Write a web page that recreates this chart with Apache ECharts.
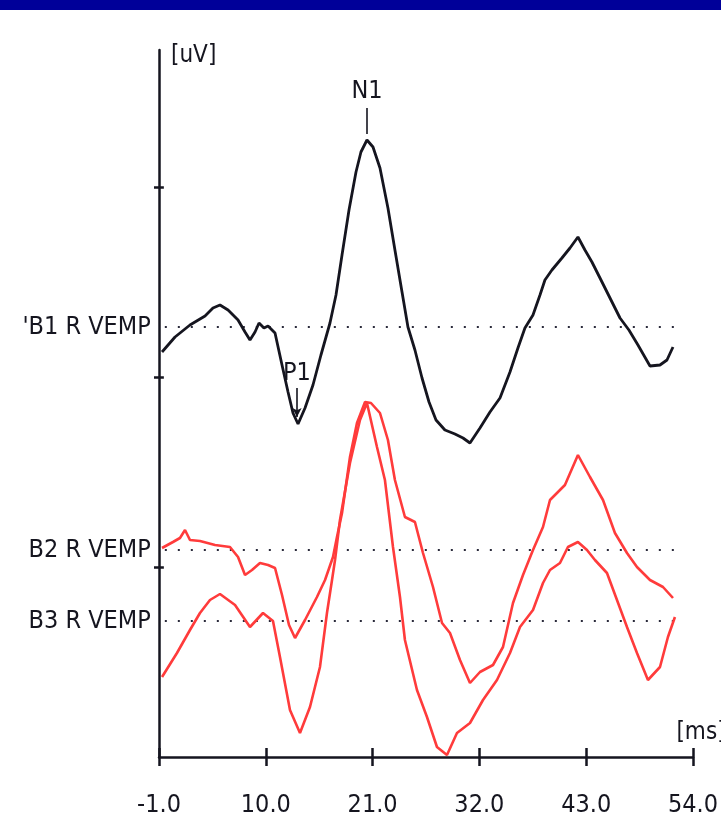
<!DOCTYPE html>
<html><head><meta charset="utf-8">
<script src="https://cdn.jsdelivr.net/npm/echarts@6/dist/echarts.min.js"></script>
<style>html,body{margin:0;padding:0;background:#fff}#c{width:721px;height:826px}</style>
</head><body><div id="c"></div>
<script>
// x tick values (ms) and y tick values (arbitrary uV units)
const xTicks = [-1, 10, 21, 32, 43, 54];
const yTicks = [19, 38, 57];

// B1 R VEMP (black trace): [ms, uV-units]
const b1 = [[-0.69,40.5],[0.65,42.0],[2.19,43.2],[3.74,44.1],[4.56,44.9],[5.28,45.2],[6.11,44.7],[7.14,43.7],[7.86,42.5],[8.37,41.7],[8.89,42.5],[9.30,43.4],[9.81,42.9],[10.23,43.1],[10.95,42.4],[11.67,39.2],[12.29,36.5],[12.80,34.4],[13.32,33.3],[14.04,34.9],[14.86,37.2],[15.68,40.2],[16.61,43.4],[17.23,46.2],[17.85,50.2],[18.57,54.7],[19.29,58.5],[19.80,60.5],[20.42,61.7],[21.04,61.0],[21.76,58.9],[22.58,54.9],[23.30,50.7],[24.03,46.5],[24.64,43.0],[25.36,40.7],[26.09,37.9],[26.81,35.5],[27.53,33.7],[28.45,32.7],[29.48,32.3],[30.31,31.9],[31.03,31.4],[32.06,32.9],[33.09,34.5],[34.12,35.9],[35.15,38.5],[35.97,40.9],[36.69,42.9],[37.52,44.2],[38.24,46.2],[38.75,47.7],[39.47,48.7],[40.50,49.9],[41.33,50.9],[42.15,52.0],[42.87,50.7],[43.59,49.5],[44.42,47.9],[45.45,45.9],[46.48,43.9],[47.40,42.7],[48.33,41.2],[49.57,39.1],[50.60,39.2],[51.32,39.7],[51.94,41.0]];

// B2 R VEMP (upper red trace)
const b2 = [[-0.69,20.9],[0.44,21.5],[1.16,21.9],[1.68,22.7],[2.19,21.7],[3.22,21.6],[4.77,21.2],[6.31,21.0],[7.14,20.0],[7.86,18.2],[8.58,18.7],[9.40,19.4],[10.23,19.2],[10.95,18.9],[11.67,16.2],[12.39,13.2],[13.01,11.9],[14.04,13.7],[15.27,16.0],[16.10,17.7],[16.92,20.0],[17.33,22.0],[17.85,24.4],[18.67,30.0],[19.39,33.4],[20.22,35.5],[20.83,35.4],[21.76,34.4],[22.58,31.7],[23.30,27.7],[24.33,24.0],[25.36,23.5],[26.19,20.4],[27.22,17.0],[28.15,13.4],[28.97,12.4],[30.00,9.7],[31.03,7.4],[32.06,8.5],[33.40,9.2],[34.43,11.0],[35.46,15.4],[36.49,18.2],[37.52,20.7],[38.55,23.0],[39.27,25.7],[40.81,27.2],[42.15,30.2],[43.39,28.0],[44.73,25.7],[45.96,22.4],[47.20,20.4],[48.23,19.0],[49.57,17.7],[50.91,17.0],[51.94,15.9]];

// B3 R VEMP (lower red trace)
const b3 = [[-0.69,8.0],[0.85,10.4],[2.19,12.7],[3.22,14.4],[4.25,15.7],[5.28,16.3],[6.83,15.2],[8.37,13.0],[9.71,14.4],[10.74,13.6],[11.46,10.0],[12.49,4.7],[13.52,2.4],[14.55,5.0],[15.58,9.0],[16.30,14.4],[16.82,17.7],[17.13,19.7],[17.64,23.7],[18.67,29.4],[19.70,33.7],[20.42,35.4],[21.45,31.0],[22.27,27.7],[23.10,21.0],[23.82,16.0],[24.33,11.7],[25.57,6.7],[26.60,4.0],[27.63,1.0],[28.66,0.2],[29.69,2.4],[31.03,3.4],[32.37,5.7],[33.81,7.7],[35.15,10.4],[36.18,13.0],[37.52,14.7],[38.55,17.4],[39.27,18.7],[40.30,19.4],[41.12,21.0],[42.15,21.5],[43.08,20.7],[43.90,19.7],[45.14,18.4],[46.17,15.7],[47.20,13.0],[48.23,10.4],[49.36,7.7],[50.60,9.0],[51.42,12.0],[52.14,14.0]];

// baselines of the three channels and their names
const baselines = [43.0, 20.7, 13.6];
const channelNames = ["'B1 R VEMP", "B2 R VEMP", "B3 R VEMP"];
const baseRange = [-0.4, 52.1];

// peak markers: [ms, from, to]
const n1Mark = [20.42, 62.3, 64.9];
const p1Mark = [13.21, 36.9, 34.0];

const X_MIN = -1, X_MAX = 54, Y_MIN = 0, Y_MAX = 70.7;
// half-tick extents inside the plot (in axis units) so ticks cross the axes
const X_TICK_IN = 0.9, Y_TICK_IN = 0.5;

const FONT = "'Liberation Sans Narrow','DejaVu Sans Condensed','Arial Narrow',sans-serif";
const INK = '#15151f';
const RED = '#ff3b3b';

const chart = echarts.init(document.getElementById('c'), null, {renderer: 'canvas'});
const grid = {left: 159, right: 28, top: 50, bottom: 69, outerBoundsMode: 'none', containLabel: false};

// inner halves of the crossing tick marks, built from the tick arrays
const innerTicks = xTicks.map(t => [{coord: [t, Y_MIN]}, {coord: [t, Y_MIN + X_TICK_IN]}])
  .concat(yTicks.map(v => [{coord: [X_MIN, v]}, {coord: [X_MIN + Y_TICK_IN, v]}]));

function baselineSeries(i) {
  const s = {
    type: 'line', z: 1,
    symbol: 'circle', symbolSize: 0.1, showSymbol: true, silent: true,
    lineStyle: {color: '#2a2a3a', width: 2, type: [2, 11]},
    itemStyle: {color: 'rgba(0,0,0,0)'},
    data: [
      {value: [baseRange[0], baselines[i]],
       label: {show: true, position: 'left', distance: 14, formatter: channelNames[i],
               fontSize: 25, fontFamily: FONT, color: INK}},
      {value: [baseRange[1], baselines[i]]}
    ]
  };
  if (i === 0) {
    s.markLine = {
      silent: true, symbol: ['none', 'none'], animation: false, label: {show: false},
      lineStyle: {color: INK, width: 2.5, type: 'solid'},
      data: innerTicks
    };
  }
  return s;
}

const option = {
  animation: false,
  backgroundColor: '#ffffff',
  grid: grid,
  graphic: [{type: 'rect', left: 0, top: 0, shape: {width: 721, height: 10}, style: {fill: '#000099'}}],
  xAxis: {
    type: 'value', min: X_MIN, max: X_MAX, position: 'bottom',
    axisLine: {onZero: false, lineStyle: {color: INK, width: 2.5}},
    axisTick: {customValues: xTicks, length: 9, lineStyle: {color: INK, width: 2.5}},
    axisLabel: {customValues: xTicks, formatter: v => v.toFixed(1), fontSize: 25, lineHeight: 28,
                fontFamily: FONT, color: INK, margin: 34},
    splitLine: {show: false},
    name: '[ms]', nameLocation: 'end', nameGap: 8,
    nameTextStyle: {fontSize: 24, fontFamily: FONT, color: INK, align: 'center',
                    verticalAlign: 'bottom', padding: [0, 0, 12, 0]}
  },
  yAxis: {
    type: 'value', min: Y_MIN, max: Y_MAX, position: 'left',
    axisLine: {show: true, onZero: false, lineStyle: {color: INK, width: 2.5}},
    axisTick: {customValues: yTicks, length: 5, lineStyle: {color: INK, width: 2.5}},
    axisLabel: {show: false, customValues: yTicks},
    splitLine: {show: false},
    name: '[uV]', nameLocation: 'end', nameGap: -6,
    nameTextStyle: {fontSize: 24, fontFamily: FONT, color: INK, align: 'left',
                    verticalAlign: 'middle', padding: [0, 0, 0, 12]}
  },
  series: [
    baselineSeries(0), baselineSeries(1), baselineSeries(2),
    {
      name: 'B1 R VEMP', type: 'line', data: b1, showSymbol: false, z: 3,
      lineStyle: {color: INK, width: 2.8}, itemStyle: {color: INK},
      markLine: {
        silent: true, symbol: ['none', 'none'], animation: false,
        lineStyle: {color: INK, width: 1.6, type: 'solid'},
        label: {fontSize: 25, fontFamily: FONT, color: INK},
        data: [
          [{coord: [n1Mark[0], n1Mark[1]], label: {show: true, position: 'end', formatter: 'N1', distance: 4}},
           {coord: [n1Mark[0], n1Mark[2]]}],
          [{coord: [p1Mark[0], p1Mark[1]], symbol: 'none',
            label: {show: true, position: 'start', formatter: 'P1', distance: 2}},
           {coord: [p1Mark[0], p1Mark[2]], symbol: 'arrow', symbolSize: [7, 9]}]
        ]
      }
    },
    {name: 'B2 R VEMP', type: 'line', data: b2, showSymbol: false, z: 2,
     lineStyle: {color: RED, width: 2.6}, itemStyle: {color: RED}},
    {name: 'B3 R VEMP', type: 'line', data: b3, showSymbol: false, z: 2,
     lineStyle: {color: RED, width: 2.6}, itemStyle: {color: RED}}
  ]
};
chart.setOption(option);
</script>
</body></html>
